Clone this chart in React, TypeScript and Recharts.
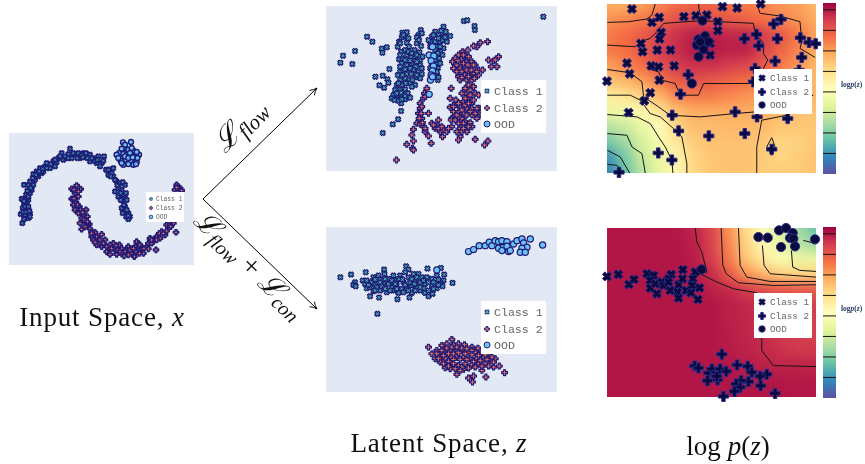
import React from "react";
import { ScatterChart, Scatter, XAxis, YAxis, ReferenceArea, ReferenceLine } from "recharts";

type P = [number, number];
// ---- Input space (read in crop units)
const moonClass1: P[] = [[67,295],[62,268],[75,270],[90,265],[85,280],[72,283],[90,275],[68,250],[72,235],[65,222],[80,240],[85,225],[78,210],[90,205],[72,180],[85,180],[100,180],[95,195],[105,165],[100,148],[115,155],[110,140],[125,145],[120,130],[135,125],[130,140],[145,120],[150,130],[160,110],[165,125],[175,100],[185,85],[190,105],[200,100],[210,72],[215,100],[225,90],[235,85],[240,100],[250,85],[255,95],[270,90],[270,110],[280,100],[295,95],[290,115],[312,95],[305,115],[300,125],[318,135],[330,135],[340,130],[325,150],[340,155],[350,170],[360,175],[375,180],[345,200],[355,215],[365,195],[375,215],[370,230],[380,225],[365,250],[375,262],[385,265],[390,275],[385,283],[378,275],[80,255],[78,222],[92,190],[112,148],[140,115],[170,112],[205,88],[245,92],[262,100],[285,108],[335,145],[355,190],[368,210],[375,245],[70,262],[78,262],[88,258],[75,245],[85,245],[72,228],[85,215],[82,198],[90,170],[98,160],[108,150],[118,140],[128,132],[140,130],[152,118],[165,105],[180,95],[195,95],[205,100],[220,85],[232,100],[248,98],[258,85],[275,100],[292,105],[310,108],[325,135],[332,155],[345,165],[368,172],[352,182],[362,205],[378,205],[362,225],[372,240],[380,255],[368,265],[385,272]];
const moonClass2: P[] = [[215,192],[230,182],[242,193],[225,205],[215,222],[235,215],[228,232],[220,240],[238,245],[225,255],[258,255],[235,265],[245,280],[262,275],[255,290],[240,295],[268,298],[245,313],[270,312],[285,322],[275,335],[305,328],[295,345],[315,345],[290,360],[305,365],[325,372],[340,355],[345,375],[320,380],[358,360],[365,370],[350,388],[372,393],[380,375],[395,385],[403,395],[410,350],[420,360],[430,385],[440,365],[450,340],[445,355],[468,375],[462,345],[470,335],[480,340],[485,320],[495,330],[505,310],[520,295],[528,322],[500,300],[530,180],[525,195],[540,190],[545,197],[250,270],[280,345],[330,360],[365,385],[385,365],[405,365],[425,372],[455,355],[478,325],[510,300],[300,355],[352,375],[415,378],[222,195],[235,200],[222,222],[232,240],[242,255],[252,285],[262,300],[255,305],[275,322],[290,335],[300,345],[310,355],[285,352],[320,365],[335,370],[348,362],[360,380],[375,380],[390,375],[408,380],[418,385],[432,370],[445,372],[455,345],[470,345],[490,325],[500,318],[512,305],[535,190],[530,188],[400,370],[385,390],[330,388],[275,325],[262,290],[248,262]];
const moonOod: P[] = [[369,53],[393,52],[372,70],[385,75],[358,85],[370,88],[382,90],[400,78],[417,90],[405,95],[362,108],[378,105],[392,108],[410,112],[370,120],[400,120],[385,118],[375,60],[365,72],[395,70],[410,82],[350,90],[390,85],[375,95],[412,100],[355,100],[365,115],[385,100],[398,98],[408,118]];

// ---- Latent space, Lflow
const flowClass1: P[] = [[654,50],[416,63],[426,61],[448,78],[449,90],[126,110],[142,125],[90,153],[54,167],[46,188],[82,192],[170,146],[185,142],[172,158],[193,207],[151,230],[173,227],[187,238],[190,248],[163,256],[177,263],[228,333],[219,358],[203,373],[173,399],[232,98],[245,97],[240,110],[230,112],[287,90],[280,105],[275,112],[222,125],[218,140],[228,155],[245,128],[252,140],[240,150],[275,130],[288,138],[268,150],[283,157],[222,178],[232,175],[245,165],[258,172],[270,170],[285,180],[230,190],[245,195],[260,190],[272,200],[285,195],[265,210],[280,215],[290,222],[225,215],[218,225],[235,212],[245,222],[258,222],[225,240],[240,235],[252,240],[270,232],[285,235],[270,255],[255,250],[215,255],[230,255],[210,270],[225,270],[240,268],[248,280],[205,285],[218,290],[232,285],[200,295],[215,298],[228,310],[240,298],[255,293],[220,302],[355,80],[348,92],[362,95],[330,95],[320,110],[340,105],[355,110],[375,108],[315,125],[330,125],[345,125],[365,125],[335,140],[355,145],[345,155],[330,165],[342,175],[335,190],[338,205],[335,225],[338,240],[310,120],[320,190],[315,205],[225,130],[235,105],[250,115],[282,120],[290,100],[225,165],[250,155],[260,160],[275,165],[292,170],[240,180],[255,182],[275,185],[225,200],[240,208],[255,205],[290,205],[275,225],[262,240],[232,225],[220,250],[242,250],[260,260],[215,280],[228,278],[240,288],[208,300],[230,298],[352,120],[340,115],[325,105],[360,112],[330,150],[345,140],[352,165],[338,160],[330,180],[345,190],[328,210],[335,215],[340,232],[315,140]];
const flowClass2: P[] = [[487,125],[465,128],[455,140],[445,138],[412,155],[428,150],[400,165],[420,168],[390,175],[408,178],[382,185],[395,195],[425,185],[440,185],[385,205],[405,205],[420,200],[435,200],[450,195],[460,210],[472,210],[430,215],[445,220],[400,230],[418,225],[405,240],[425,240],[440,240],[460,225],[490,180],[505,183],[520,170],[510,180],[515,200],[498,200],[378,265],[305,265],[298,280],[295,295],[285,310],[285,325],[280,340],[290,355],[275,370],[285,372],[265,388],[295,380],[300,395],[310,340],[260,405],[265,423],[245,433],[262,445],[265,450],[214,480],[318,430],[310,408],[320,370],[340,360],[330,385],[345,395],[335,375],[352,410],[355,390],[365,395],[380,380],[380,355],[395,350],[410,355],[400,370],[420,365],[435,368],[440,380],[425,395],[405,385],[395,395],[405,410],[400,420],[450,418],[478,435],[488,423],[375,295],[390,310],[375,322],[385,335],[405,320],[415,305],[430,295],[440,310],[420,280],[435,270],[450,280],[460,285],[445,260],[430,255],[420,265],[410,280],[425,325],[440,325],[462,325],[465,340],[455,355],[470,345],[400,335],[415,340],[378,360],[415,165],[430,170],[398,182],[415,190],[428,195],[445,195],[395,215],[410,215],[425,210],[438,210],[455,215],[410,232],[430,230],[448,235],[300,290],[290,320],[288,340],[282,355],[292,368],[300,385],[325,375],[340,385],[350,380],[370,385],[390,360],[400,350],[415,370],[430,380],[410,395],[415,385],[392,300],[385,320],[400,310],[420,295],[435,285],[420,315],[430,310],[445,300],[410,330],[425,345],[440,345],[395,345],[450,340],[455,325],[435,335]];
const flowOod: P[] = [[322,140],[312,165],[326,168],[318,182],[325,198],[322,212],[318,225],[316,240],[322,230],[312,283]];

// ---- Latent space, Lflow + Lcon
const conClass1: P[] = [[46,165],[78,157],[122,150],[177,142],[243,132],[250,142],[307,139],[347,137],[357,157],[382,182],[157,275],[135,222],[162,226],[217,231],[253,226],[90,180],[85,188],[92,192],[113,175],[120,185],[125,198],[135,195],[145,165],[160,160],[140,180],[150,188],[165,172],[175,185],[190,170],[205,160],[215,175],[225,160],[235,180],[250,165],[265,155],[280,155],[290,165],[305,165],[320,170],[335,160],[355,175],[345,180],[145,207],[165,205],[185,210],[200,195],[215,190],[230,200],[220,212],[245,195],[260,190],[260,212],[275,195],[285,205],[300,212],[310,222],[322,215],[335,198],[352,192],[320,190],[300,185],[285,180],[270,175],[178,155],[195,180],[208,205],[125,175],[130,188],[150,172],[155,195],[170,192],[180,170],[190,185],[200,175],[210,185],[222,170],[232,172],[240,188],[255,180],[268,185],[275,165],[295,175],[310,180],[325,180],[340,172],[295,198],[310,205],[325,200],[340,188],[180,200],[195,205],[215,200],[235,210],[250,205],[270,205],[150,205],[165,180],[240,150],[260,170],[285,195]];
const conClass2: P[] = [[310,375],[380,352],[320,395],[335,385],[350,370],[365,365],[385,368],[400,365],[418,368],[440,375],[458,378],[330,410],[345,400],[360,385],[375,385],[395,385],[410,385],[430,390],[450,390],[470,390],[490,395],[510,410],[345,420],[360,410],[378,405],[395,400],[415,405],[435,410],[455,408],[475,405],[495,415],[522,432],[505,435],[360,437],[380,425],[400,430],[420,425],[440,428],[460,425],[480,425],[395,457],[430,468],[445,462],[442,480],[482,465],[538,452],[415,442],[470,445],[375,440],[490,432],[335,395],[350,385],[365,378],[380,375],[395,375],[410,378],[425,380],[440,385],[340,410],[355,400],[370,395],[385,395],[400,392],[420,395],[440,398],[460,400],[480,398],[500,405],[355,425],[370,418],[385,412],[405,412],[425,412],[445,418],[465,415],[485,412],[505,420],[370,432],[390,440],[410,435],[430,438],[450,435],[470,432],[385,425],[405,445]];
const conOod: P[] = [[430,88],[445,82],[462,70],[480,70],[492,60],[500,70],[510,55],[520,58],[530,55],[545,58],[520,78],[535,75],[545,72],[530,85],[550,88],[555,85],[565,65],[575,55],[590,50],[615,50],[595,62],[605,75],[590,78],[585,90],[600,90],[652,68],[335,143]];

// ---- log p(z) maps: markers
const heatTopClass1: P[] = [[95,27],[155,67],[177,52],[251,50],[287,47],[320,45],[353,65],[353,92],[367,20],[411,24],[482,12],[183,97],[178,117],[122,130],[127,155],[171,150],[211,150],[80,189],[88,221],[153,197],[175,200],[222,197],[177,240],[20,243],[150,278],[132,302],[85,337],[330,130],[330,165]];
const heatTopClass2: P[] = [[543,58],[521,72],[469,103],[433,116],[532,116],[476,137],[601,113],[627,127],[647,131],[605,172],[525,183],[465,205],[460,245],[264,224],[241,282],[216,345],[235,392],[326,407],[405,335],[434,400],[471,350],[563,355],[515,447],[174,458],[215,479],[56,516],[597,210]];
const heatTopOod: P[] = [[307,62],[295,118],[315,108],[290,135],[310,148],[295,170],[275,250],[325,125],[300,125]];
const heatBotClass1: P[] = [[20,163],[54,157],[86,187],[101,172],[140,155],[160,160],[150,175],[150,198],[170,215],[165,185],[185,180],[190,190],[213,157],[205,170],[210,205],[235,188],[248,143],[247,170],[232,210],[235,228],[285,150],[278,170],[258,205],[275,190],[272,212],[298,197],[293,232],[205,180]];
const heatBotClass2: P[] = [[365,396],[283,431],[295,437],[411,428],[443,432],[325,452],[335,440],[350,450],[360,440],[378,447],[455,450],[322,475],[352,473],[500,456],[480,462],[482,490],[445,478],[423,475],[408,485],[420,495],[403,507],[370,522],[525,513],[350,462]];
const heatBotOod: P[] = [[304,142],[475,45],[503,47],[537,25],[558,18],[578,33],[570,48],[580,50],[645,52],[543,75],[585,73]];

// ---- log p(z) maps: density grids (0 = bottom of colour bar, 1 = top)
const heatCols = [21,73,125,178,230,282,334,387,439,491,543,596,648];
const heatTopRows = [12,58,104,150,196,242,288,334,380,426,472,518];
const heatBotRows = [18,64,110,156,202,248,294,340,386,432,478,524];
const heatTopGrid = [
  [.70,.70,.72,.76,.8,.82,.82,.8,.78,.76,.74,.72,.68],
  [.74,.76,.78,.82,.86,.88,.86,.84,.82,.8,.76,.74,.7],
  [.78,.8,.84,.88,.92,.95,.95,.94,.94,.9,.84,.78,.72],
  [.78,.8,.84,.9,.93,.96,.96,.95,.95,.88,.82,.76,.7],
  [.72,.76,.8,.86,.9,.92,.92,.9,.88,.84,.78,.74,.68],
  [.66,.68,.72,.78,.84,.86,.84,.82,.8,.78,.74,.7,.68],
  [.55,.58,.62,.68,.76,.78,.78,.76,.74,.72,.7,.68,.68],
  [.42,.45,.52,.58,.66,.7,.7,.7,.7,.7,.68,.66,.66],
  [.32,.35,.42,.5,.62,.67,.67,.68,.68,.67,.65,.65,.65],
  [.22,.28,.38,.45,.57,.64,.66,.66,.66,.65,.62,.63,.65],
  [.12,.22,.35,.42,.54,.62,.65,.66,.66,.64,.62,.64,.66],
  [.08,.2,.32,.42,.52,.62,.65,.66,.66,.64,.64,.64,.66],
];
const heatBotGrid = [
  [.965,.965,.965,.965,.965,.94,.88,.74,.6,.48,.38,.28,.2],
  [.965,.965,.965,.965,.965,.95,.89,.76,.62,.52,.42,.32,.28],
  [.965,.965,.965,.965,.965,.955,.9,.78,.65,.56,.47,.43,.42],
  [.965,.965,.965,.965,.965,.96,.93,.84,.74,.68,.63,.62,.62],
  [.965,.965,.965,.965,.965,.965,.95,.93,.9,.87,.85,.84,.84],
  [.965,.965,.965,.965,.965,.965,.965,.95,.94,.92,.91,.9,.9],
  [.965,.965,.965,.965,.965,.965,.965,.95,.94,.92,.91,.9,.9],
  [.965,.965,.965,.965,.965,.965,.965,.955,.94,.93,.91,.9,.9],
  [.965,.965,.965,.965,.965,.965,.965,.955,.945,.935,.92,.91,.91],
  [.965,.965,.965,.965,.965,.965,.965,.965,.955,.95,.945,.945,.945],
  [.965,.965,.965,.965,.965,.965,.965,.965,.965,.965,.965,.96,.96],
  [.965,.965,.965,.965,.965,.965,.965,.965,.965,.965,.965,.965,.965],
];
const heatTopContours: P[][] = [
  [[21,67],[85,65],[140,57],[155,45],[165,12]],
  [[295,12],[298,40],[310,55]],
  [[470,12],[480,40],[540,48],[600,65],[605,125],[600,145],[645,172]],
  [[21,135],[105,140],[120,125],[150,115],[170,95],[190,70],[300,62],[460,70],[465,100],[490,130],[490,160],[503,180],[490,205],[460,250],[310,250],[295,285],[240,285],[225,250],[185,240],[175,215],[140,205]],
  [[21,208],[90,218],[125,245],[130,290],[175,320],[210,345],[300,350],[405,340],[465,335],[640,285]],
  [[21,285],[90,285],[120,300],[150,340],[180,350],[220,385],[245,410],[260,490],[260,518]],
  [[21,343],[110,350],[150,370],[175,410],[195,440],[215,480],[218,518]],
  [[21,400],[80,405],[95,440],[125,460],[135,518]],
  [[21,450],[60,470],[88,518]],
  [[21,492],[50,495],[72,518]],
  [[470,518],[470,440],[485,360],[560,345]],
  [[500,440],[515,412],[525,440],[515,465],[500,440]],
];
const heatBotContours: P[][] = [
  [[285,18],[290,60],[305,90],[320,150],[300,155],[350,180],[400,200],[470,212]],
  [[485,345],[485,385],[520,430],[648,433]],
  [[363,18],[368,130],[378,155],[415,182],[520,190],[648,188]],
  [[415,18],[420,130],[440,165],[510,178],[648,178]],
  [[487,70],[492,130],[510,155],[648,165]],
  [[574,85],[578,135],[600,145],[648,148]],
  [[610,55],[648,65]],
];
const colorbarLevels = [0.96,0.84,0.72,0.6,0.48,0.36,0.24,0.12];
const colorbarEnds = [{ x: 0, y: 0 }, { x: 1, y: 1 }];
const legendLabels = ["Class 1","Class 2","OOD"];

const SPECTRAL = ["#5e4fa2","#3288bd","#66c2a5","#abdda4","#e6f598","#ffffbf","#fee08b","#fdae61","#f46d43","#d53e4f","#9e0142"];
function spectral(v: number) {
  const t = Math.max(0, Math.min(0.9999, v)) * 10, i = Math.floor(t), f = t - i;
  const h = (s: string) => [1, 3, 5].map((k) => parseInt(s.slice(k, k + 2), 16));
  const a = h(SPECTRAL[i]), b = h(SPECTRAL[i + 1]);
  return `rgb(${a.map((c, k) => Math.round(c + (b[k] - c) * f)).join(",")})`;
}
const pts = (a: P[]) => a.map(([x, y]) => ({ x, y }));

const BG = "#e3e9f4";
const NAVY = "#1d1a78";
const TEAL = "#43b3a5";
const SALMON = "#f0705c";
const SKY = "#6cc2f4";

function xPath(s: number, w: number) {
  const a = s, b = w;
  return `M${-a},${-a + b}L${-a + b},${-a}L0,${-b}L${a - b},${-a}L${a},${-a + b}L${b},0L${a},${a - b}L${a - b},${a}L0,${b}L${-a + b},${a}L${-a},${a - b}L${-b},0Z`;
}
function plusPath(s: number, w: number) {
  return `M${-w},${-s}H${w}V${-w}H${s}V${w}H${w}V${s}H${-w}V${w}H${-s}V${-w}H${-w}Z`;
}
type Mk = { kind: "x" | "plus" | "o"; size: number; fill: string; stroke: string; sw: number };
const marker = (m: Mk) => (p: any) => {
  if (p.cx == null) return <g />;
  const t = `translate(${p.cx},${p.cy})`;
  if (m.kind === "o") return <circle cx={p.cx} cy={p.cy} r={m.size} fill={m.fill} stroke={m.stroke} strokeWidth={m.sw} />;
  const d = m.kind === "x" ? xPath(m.size, m.size * 0.55) : plusPath(m.size * 1.1, m.size * 0.38);
  return <path d={d} transform={t} fill={m.fill} stroke={m.stroke} strokeWidth={m.sw} strokeLinejoin="round" />;
};
const none = () => <g />;

type Box = { l: number; t: number; r: number; b: number };
type Dom = { x: [number, number]; y: [number, number] };
const PAD = 10;

function Panel({ box, dom, series, lines }: { box: Box; dom: Dom; series: { data: P[]; mk: Mk; name: string }[]; lines?: P[][] }) {
  const w = box.r - box.l, h = box.b - box.t;
  return (
    <div style={{ position: "absolute", left: box.l - PAD, top: box.t - PAD }}>
      <ScatterChart width={w + 2 * PAD} height={h + 2 * PAD} margin={{ top: PAD, right: PAD, bottom: PAD, left: PAD }}>
        <XAxis type="number" dataKey="x" domain={dom.x} hide />
        <YAxis type="number" dataKey="y" domain={dom.y} reversed hide />
        {(lines || []).map((l, i) => (
          <Scatter key={"l" + i} data={pts(l)} line={{ stroke: "#141414", strokeWidth: 1 }} shape={none} isAnimationActive={false} />
        ))}
        {series.map((s) => (
          <Scatter key={s.name} name={s.name} data={pts(s.data)} shape={marker(s.mk)} isAnimationActive={false} />
        ))}
      </ScatterChart>
    </div>
  );
}

function Heat({ box, dom, cols, rows, grid }: { box: Box; dom: Dom; cols: number[]; rows: number[]; grid: number[][] }) {
  const w = box.r - box.l, h = box.b - box.t;
  const cw = w / (cols.length - 1), ch = h / (rows.length - 1);
  const data = rows.flatMap((y, j) => cols.map((x, i) => ({ x, y, v: grid[j][i], i, j })));
  const cell = (p: any) => {
    if (p.cx == null) return <g />;
    const q = p.payload ?? p;
    const ext = 24;
    const x0 = p.cx - cw / 2 - (q.i === 0 ? ext : 0), x1 = p.cx + cw / 2 + 1 + (q.i === cols.length - 1 ? ext : 0);
    const y0 = p.cy - ch / 2 - (q.j === 0 ? ext : 0), y1 = p.cy + ch / 2 + 1 + (q.j === rows.length - 1 ? ext : 0);
    return <rect x={x0} y={y0} width={x1 - x0} height={y1 - y0} fill={spectral(q.v)} />;
  };
  return (
    <div style={{ position: "absolute", left: box.l, top: box.t, width: w, height: h, overflow: "hidden" }}>
      <div style={{ position: "absolute", left: -30, top: -30, filter: "blur(6px)" }}>
        <ScatterChart width={w + 60} height={h + 60} margin={{ top: 30, right: 30, bottom: 30, left: 30 }} style={{ overflow: "visible" }}>
          <XAxis type="number" dataKey="x" domain={dom.x} hide />
          <YAxis type="number" dataKey="y" domain={dom.y} reversed hide />
          <Scatter data={data} shape={cell} isAnimationActive={false} />
        </ScatterChart>
      </div>
    </div>
  );
}

function Colorbar({ l, t, r, b, id }: { l: number; t: number; r: number; b: number; id: string }) {
  return (
    <div style={{ position: "absolute", left: l, top: t }}>
      <ScatterChart width={r - l} height={b - t} margin={{ top: 0, right: 0, bottom: 0, left: 0 }}>
        <defs>
          <linearGradient id={id} x1="0" y1="1" x2="0" y2="0">
            {SPECTRAL.map((c, i) => <stop key={c} offset={i / 10} stopColor={c} />)}
          </linearGradient>
        </defs>
        <XAxis type="number" dataKey="x" domain={[0, 1]} hide />
        <YAxis type="number" dataKey="y" domain={[0, 1]} hide />
        <Scatter data={colorbarEnds} shape={none} isAnimationActive={false} />
        <ReferenceArea x1={0} x2={1} y1={0} y2={1} fill={`url(#${id})`} fillOpacity={1} stroke="none" />
        {colorbarLevels.map((v) => <ReferenceLine key={v} y={v} stroke="#141414" strokeWidth={1} />)}
      </ScatterChart>
    </div>
  );
}

function LegendBox({ box, ys, mx, tx, fs, mks }: { box: Box; ys: number[]; mx: number; tx: number; fs: number; mks: Mk[] }) {
  return (
    <svg style={{ position: "absolute", left: box.l, top: box.t, overflow: "visible" }} width={box.r - box.l} height={box.b - box.t}>
      <rect x={0} y={0} width={box.r - box.l} height={box.b - box.t} fill="#fff" />
      {legendLabels.map((s, i) => (
        <g key={s}>
          {marker(mks[i])({ cx: mx - box.l, cy: ys[i] - box.t })}
          <text x={tx - box.l} y={ys[i] - box.t} dy="0.35em" fontFamily="'Liberation Mono',monospace" fontSize={fs} fill="#666">{s}</text>
        </g>
      ))}
    </svg>
  );
}

const mkLatent = (s: number, sw: number, ood: number): Mk[] => [
  { kind: "x", size: s, fill: TEAL, stroke: NAVY, sw },
  { kind: "plus", size: s, fill: SALMON, stroke: NAVY, sw },
  { kind: "o", size: ood, fill: SKY, stroke: NAVY, sw },
];
const mkHeat = (s: number): Mk[] => [
  { kind: "x", size: s, fill: "#0a0a3c", stroke: "#2b2a8c", sw: 1 },
  { kind: "plus", size: s, fill: "#0a0a3c", stroke: "#2b2a8c", sw: 1 },
  { kind: "o", size: s, fill: "#0a0a3c", stroke: "#2b2a8c", sw: 1 },
];
const mkMoon = mkLatent(2.4, 1.4, 2.5);
const mkLat = mkLatent(2.6, 1.2, 3.1);
const mkH = mkHeat(4.6);

const boxInput = { l: 9, t: 133, r: 194, b: 265 };
const boxFlow = { l: 326, t: 6, r: 557, b: 171 };
const boxCon = { l: 326, t: 227, r: 557, b: 392 };
const boxHT = { l: 607, t: 4, r: 816, b: 173 };
const boxHB = { l: 607, t: 228, r: 816, b: 397 };
const domInput: Dom = { x: [27, 582], y: [25, 420] };
const domFlow: Dom = { x: [3, 695], y: [18, 513] };
const domCon: Dom = { x: [3, 695], y: [14, 510] };
const domHT: Dom = { x: [21, 648], y: [12, 518] };
const domHB: Dom = { x: [21, 648], y: [18, 524] };

const bgBox = (b: Box) => <div style={{ position: "absolute", left: b.l, top: b.t, width: b.r - b.l, height: b.b - b.t, background: BG }} />;
const trio = (a: P[], b: P[], c: P[], m: Mk[]) => [
  { name: "Class 1", data: a, mk: m[0] },
  { name: "Class 2", data: b, mk: m[1] },
  { name: "OOD", data: c, mk: m[2] },
];
const serif = "'Liberation Serif',serif";

export default function App() {
  return (
    <div style={{ position: "absolute", left: 0, top: 0, width: 865, height: 464, background: "#fff", overflow: "hidden" }}>
      <div style={{ position: "absolute", inset: 0, filter: "blur(0.35px)" }}>
        {bgBox(boxInput)}
        {bgBox(boxFlow)}
        {bgBox(boxCon)}
        <Panel box={boxInput} dom={domInput} series={trio(moonClass1, moonClass2, moonOod, mkMoon)} />
        <LegendBox box={{ l: 146, t: 192, r: 184, b: 222 }} ys={[199, 208, 217]} mx={151} tx={156} fs={6.3} mks={mkLatent(1.5, 0.7, 1.9)} />
        <Panel box={boxFlow} dom={domFlow} series={trio(flowClass1, flowClass2, flowOod, mkLat)} />
        <LegendBox box={{ l: 481, t: 80, r: 546, b: 133 }} ys={[91, 108, 124]} mx={487} tx={494} fs={11.6} mks={mkLatent(2.3, 1, 3)} />
        <Panel box={boxCon} dom={domCon} series={trio(conClass1, conClass2, conOod, mkLat)} />
        <LegendBox box={{ l: 481, t: 301, r: 546, b: 354 }} ys={[312, 329, 345]} mx={487} tx={494} fs={11.6} mks={mkLatent(2.3, 1, 3)} />

        <Heat box={boxHT} dom={domHT} cols={heatCols} rows={heatTopRows} grid={heatTopGrid} />
        <Panel box={boxHT} dom={domHT} lines={heatTopContours} series={trio(heatTopClass1, heatTopClass2, heatTopOod, mkH)} />
        <LegendBox box={{ l: 754, t: 69, r: 812, b: 114 }} ys={[78, 92, 105]} mx={762} tx={770} fs={9.3} mks={mkHeat(3.2)} />
        <Colorbar l={823} t={3} r={836} b={174} id="cbTop" />
        <Heat box={boxHB} dom={domHB} cols={heatCols} rows={heatBotRows} grid={heatBotGrid} />
        <Panel box={boxHB} dom={domHB} lines={heatBotContours} series={trio(heatBotClass1, heatBotClass2, heatBotOod, mkH)} />
        <LegendBox box={{ l: 754, t: 293, r: 812, b: 338 }} ys={[302, 316, 329]} mx={762} tx={770} fs={9.3} mks={mkHeat(3.2)} />
        <Colorbar l={823} t={227} r={836} b={398} id="cbBot" />

        <svg width={865} height={464} style={{ position: "absolute", left: 0, top: 0 }}>
          <defs>
            <marker id="arr" markerWidth={10} markerHeight={10} refX={8} refY={4} orient="auto">
              <path d="M1,0.5 Q4,3 8,4 Q4,5 1,7.5" fill="none" stroke="#000" strokeWidth={0.9} />
            </marker>
          </defs>
          <line x1={203} y1={199} x2={317} y2={88} stroke="#000" strokeWidth={1} markerEnd="url(#arr)" />
          <line x1={203} y1={199} x2={317} y2={309} stroke="#000" strokeWidth={1} markerEnd="url(#arr)" />
          <text x={102} y={326} textAnchor="middle" fontFamily={serif} fontSize={27} letterSpacing={0.85} fill="#111">Input Space, <tspan fontStyle="italic">x</tspan></text>
          <text x={439} y={452} textAnchor="middle" fontFamily={serif} fontSize={27} letterSpacing={0.85} fill="#111">Latent Space, <tspan fontStyle="italic">z</tspan></text>
          <text x={728} y={455} textAnchor="middle" fontFamily={serif} fontSize={27} fill="#111">log <tspan fontStyle="italic">p</tspan>(<tspan fontStyle="italic">z</tspan>)</text>
          <g transform="translate(247,132) rotate(-45)">
            <text textAnchor="middle" fontFamily={serif} fontSize={30} fontStyle="italic" fill="#111">ℒ<tspan fontSize={21} dy={5}>flow</tspan></text>
          </g>
          <g transform="translate(243,271) rotate(44)">
            <text textAnchor="middle" fontFamily={serif} fontSize={29} fontStyle="italic" fill="#111">ℒ<tspan fontSize={20} dy={5}>flow</tspan><tspan dy={-5} fontStyle="normal"> + </tspan>ℒ<tspan fontSize={20} dy={5}>con</tspan></text>
          </g>
          <text x={841} y={87} fontFamily={serif} fontSize={7.5} fontWeight="bold" fill="#2a3a60">log<tspan fontStyle="italic">p</tspan>(<tspan fontStyle="italic">z</tspan>)</text>
          <text x={841} y={311} fontFamily={serif} fontSize={7.5} fontWeight="bold" fill="#2a3a60">log<tspan fontStyle="italic">p</tspan>(<tspan fontStyle="italic">z</tspan>)</text>
        </svg>
      </div>
    </div>
  );
}
